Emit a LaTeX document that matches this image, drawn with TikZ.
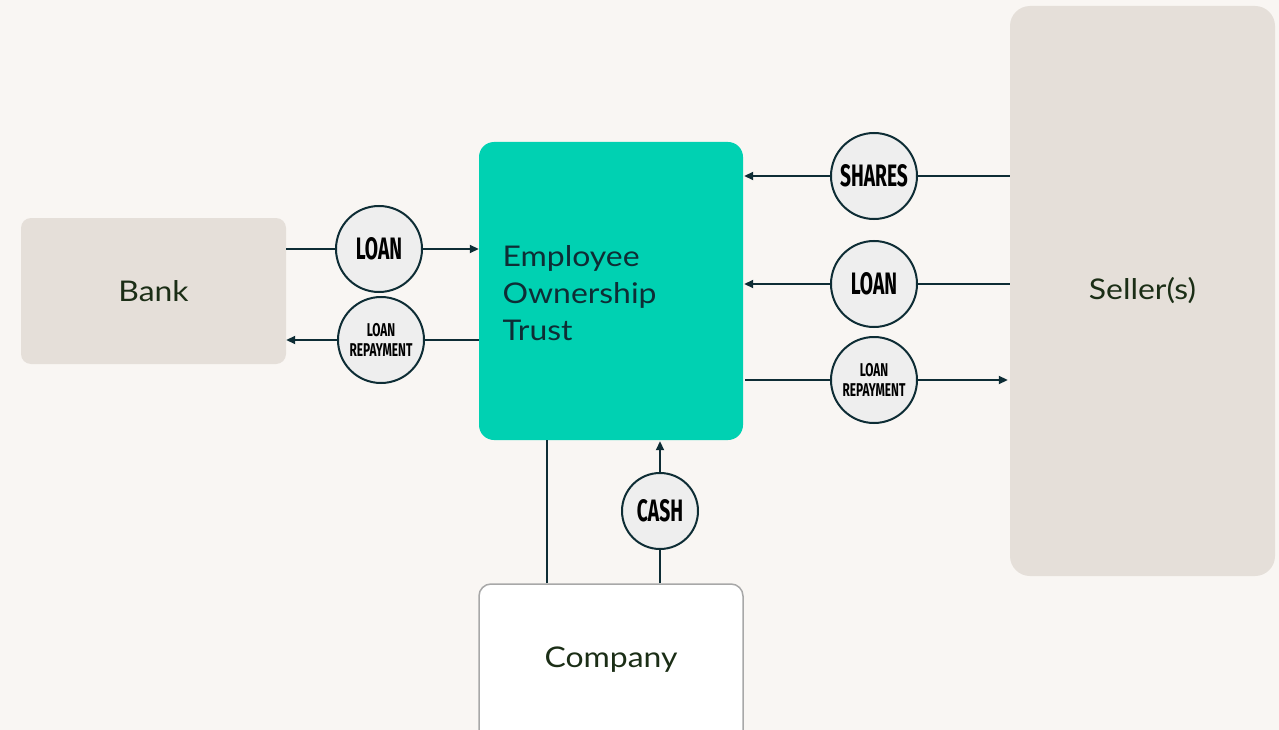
\documentclass[tikz,border=0pt]{standalone}
\usepackage{fontspec}
\setmainfont[FakeStretch=1.12]{Lato}
\newfontfamily\tagfont[FakeStretch=0.62]{Fira Sans Bold}
\newfontfamily\smalltagfont[FakeStretch=0.64]{Fira Sans Bold}
\usetikzlibrary{arrows.meta}
\definecolor{paper}{HTML}{F9F6F3}
\definecolor{sand}{HTML}{E5DFD9}
\definecolor{teal}{HTML}{00D1B2}
\definecolor{ink}{HTML}{0E2D35}
\definecolor{label}{HTML}{1B2E16}
\definecolor{chip}{HTML}{EEEEEE}
\definecolor{frame}{HTML}{A8A8A8}
\tikzset{
  party/.style={draw=none, fill=sand, inner sep=0pt, text=label,
    font=\fontsize{28.5}{30}\selectfont},
  flow/.style={circle, draw=ink, line width=2pt, fill=chip, minimum size=86pt,
    inner sep=0pt, align=center, text=black},
  bigtag/.style={flow, font=\tagfont\fontsize{31}{31}\selectfont},
  smalltag/.style={flow, font=\smalltagfont\fontsize{18.5}{20}\selectfont},
  link/.style={draw=ink, line width=1.8pt},
  arrowlink/.style={link, -{Triangle[length=9pt, width=8pt]}},
}
\begin{document}
\begin{tikzpicture}[x=1pt, y=-1pt]
  \useasboundingbox (0,0) rectangle (1279,730);
  \clip (0,0) rectangle (1279,730);
  \fill[paper] (0,0) rectangle (1279,730);

  % parties
  \node[party, rounded corners=10pt, minimum width=265pt, minimum height=146pt]
    (bank) at (153.5,291) {Bank};
  \node[party, rounded corners=20pt, minimum width=265pt, minimum height=570pt]
    (seller) at (1142.5,291) {Seller(s)};
  \node[party, fill=white, draw=frame, line width=1.5pt, rounded corners=12pt,
    minimum width=264pt, minimum height=160pt] (company) at (611,664) {};
  \node[text=label, font=\fontsize{28.5}{30}\selectfont] (companytext) at (611,660) {Company};
  \node[fill=teal, rounded corners=15pt, minimum width=264pt, minimum height=298pt,
    inner sep=0pt] (eot) at (611,291) {};
  \node[anchor=west, align=left, text=ink, font=\fontsize{28.5}{37}\selectfont]
    (eottext) at (499,293) {Employee\\Ownership\\Trust};

  % flow labels
  \node[bigtag] (bankloan) at (379,249) {LOAN};
  \node[smalltag] (bankrepay) at (381,340) {LOAN\\REPAYMENT};
  \node[bigtag] (shares) at (874,176) {SHARES};
  \node[bigtag] (sellerloan) at (874,284) {LOAN};
  \node[smalltag] (sellerrepay) at (874,380) {LOAN\\REPAYMENT};
  \node[bigtag, minimum size=76pt] (cash) at (660,511) {CASH};

  \coordinate (tiex) at (547,0);

  % bank <-> trust
  \draw[link] (bank.east |- bankloan) -- (bankloan);
  \draw[arrowlink] (bankloan) -- (eot.west |- bankloan);
  \draw[link] (eot.west |- bankrepay) -- (bankrepay);
  \draw[arrowlink] (bankrepay) -- (bank.east |- bankrepay);

  % seller <-> trust
  \draw[link] (seller.west |- shares) -- (shares);
  \draw[arrowlink] (shares) -- ([xshift=1pt]eot.east |- shares);
  \draw[link] (seller.west |- sellerloan) -- (sellerloan);
  \draw[arrowlink] (sellerloan) -- ([xshift=1pt]eot.east |- sellerloan);
  \draw[link] ([xshift=2pt]eot.east |- sellerrepay) -- (sellerrepay);
  \draw[arrowlink] (sellerrepay) -- ([xshift=-2pt]seller.west |- sellerrepay);

  % company -> trust
  \draw[link] (company.north -| tiex) -- (eot.south -| tiex);
  \draw[link] (company.north -| cash) -- (cash);
  \draw[arrowlink] (cash) -- ([yshift=-1pt]eot.south -| cash);
\end{tikzpicture}
\end{document}
